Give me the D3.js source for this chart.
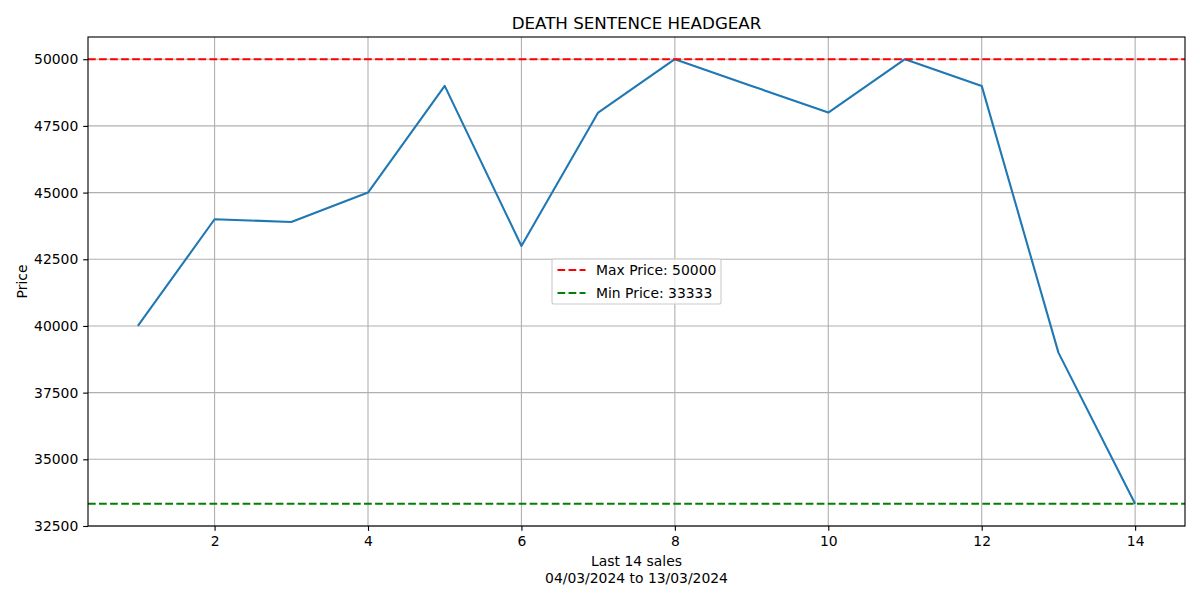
<!DOCTYPE html>
<html>
<head>
<meta charset="utf-8">
<script src="https://cdn.jsdelivr.net/npm/d3@7"></script>
<style>
  body { margin: 0; background: #fff; }
  text { font-family: 'DejaVu Sans', sans-serif; fill: #000; }
</style>
</head>
<body>
<div class="chart"></div>
<script>
const sales = [1, 2, 3, 4, 5, 6, 7, 8, 9, 10, 11, 12, 13, 14];
const prices = [40000, 44000, 43900, 45000, 49000, 43000, 48000, 50000, 49000, 48000, 50000, 49000, 39000, 33333];
const maxPrice = 50000;
const minPrice = 33333;
const xTicks = [2, 4, 6, 8, 10, 12, 14];
const yTicks = [32500, 35000, 37500, 40000, 42500, 45000, 47500, 50000];
const legendLabels = ['Max Price: ' + maxPrice, 'Min Price: ' + minPrice];

const margin = { top: 37, right: 15, bottom: 74, left: 88 };
const width = 1200 - margin.left - margin.right;
const height = 600 - margin.top - margin.bottom;

// points -> pixels (figure at 100 dpi)
const pt = 100 / 72;

const svg = d3
  .select('.chart')
  .append('svg')
  .attr('width', 1200)
  .attr('height', 600);

const group = svg
  .append('g')
  .attr('transform', 'translate(' + margin.left + ',' + margin.top + ')');

// x-value (sale number), matplotlib-like 5% margins
const xPad = (d3.max(sales) - d3.min(sales)) * 0.05;
const xScale = d3
  .scaleLinear()
  .domain([d3.min(sales) - xPad, d3.max(sales) + xPad])
  .range([0, width]);

// y-value (price)
const yPad = (d3.max(prices) - d3.min(prices)) * 0.05;
const yScale = d3
  .scaleLinear()
  .domain([d3.min(prices) - yPad, d3.max(prices) + yPad])
  .range([height, 0]);

// grid
group
  .append('g')
  .selectAll('line')
  .data(xTicks)
  .join('line')
  .attr('x1', (d) => xScale(d))
  .attr('x2', (d) => xScale(d))
  .attr('y1', 0)
  .attr('y2', height)
  .attr('stroke', '#b0b0b0')
  .attr('stroke-width', 0.8 * pt);

group
  .append('g')
  .selectAll('line')
  .data(yTicks)
  .join('line')
  .attr('x1', 0)
  .attr('x2', width)
  .attr('y1', (d) => yScale(d))
  .attr('y2', (d) => yScale(d))
  .attr('stroke', '#b0b0b0')
  .attr('stroke-width', 0.8 * pt);

// price line
const line = d3
  .line()
  .x((d, i) => xScale(sales[i]))
  .y((d) => yScale(d));

group
  .append('path')
  .datum(prices)
  .attr('fill', 'none')
  .attr('stroke', '#1f77b4')
  .attr('stroke-width', 1.5 * pt)
  .attr('stroke-linejoin', 'round')
  .attr('stroke-linecap', 'butt')
  .attr('d', line);

// max / min lines
const dash = `${5.55 * pt},${2.4 * pt}`;
const refLines = [
  { value: maxPrice, color: '#ff0000' },
  { value: minPrice, color: '#008000' },
];
group
  .append('g')
  .selectAll('line')
  .data(refLines)
  .join('line')
  .attr('x1', 0)
  .attr('x2', width)
  .attr('y1', (d) => yScale(d.value))
  .attr('y2', (d) => yScale(d.value))
  .attr('stroke', (d) => d.color)
  .attr('stroke-width', 1.5 * pt)
  .attr('stroke-dasharray', dash);

// axes
const xAxis = d3.axisBottom(xScale).tickValues(xTicks).tickSize(3.5 * pt).tickPadding(3.5 * pt);
const xAxisG = group
  .append('g')
  .attr('transform', `translate(0, ${height})`)
  .call(xAxis);

const yAxis = d3.axisLeft(yScale).tickValues(yTicks).tickFormat(d3.format('d')).tickSize(3.5 * pt).tickPadding(3.5 * pt);
const yAxisG = group.append('g').call(yAxis);

[xAxisG, yAxisG].forEach((g) => {
  g.select('.domain').remove();
  g.selectAll('.tick line').attr('stroke', '#000').attr('stroke-width', 0.8 * pt);
  g.selectAll('.tick text').attr('font-size', '13.9px').attr('font-family', 'DejaVu Sans').attr('fill', '#000');
});

// frame
group
  .append('rect')
  .attr('width', width)
  .attr('height', height)
  .attr('fill', 'none')
  .attr('stroke', '#000')
  .attr('stroke-width', 0.8 * pt);

// title
svg
  .append('text')
  .attr('x', margin.left + width / 2)
  .attr('y', 29)
  .attr('text-anchor', 'middle')
  .attr('font-size', '16.7px')
  .text('DEATH SENTENCE HEADGEAR');

// x-axis title
const xLabel = svg
  .append('text')
  .attr('x', margin.left + width / 2)
  .attr('y', 566)
  .attr('text-anchor', 'middle')
  .attr('font-size', '13.9px');
xLabel.append('tspan').attr('x', margin.left + width / 2).text('Last 14 sales');
xLabel.append('tspan').attr('x', margin.left + width / 2).attr('dy', 16.5).text('04/03/2024 to 13/03/2024');

// y-axis title
svg
  .append('text')
  .attr('transform', `translate(27, ${margin.top + height / 2}) rotate(-90)`)
  .attr('text-anchor', 'middle')
  .attr('font-size', '13.9px')
  .text('Price');

// legend
const legend = svg.append('g').attr('transform', 'translate(552, 259)');
legend
  .append('rect')
  .attr('width', 169)
  .attr('height', 45)
  .attr('rx', 2)
  .attr('fill', '#fff')
  .attr('fill-opacity', 0.8)
  .attr('stroke', '#cccccc')
  .attr('stroke-width', 0.8 * pt);

legend
  .selectAll('line')
  .data(refLines)
  .join('line')
  .attr('x1', 5.5)
  .attr('x2', 33.5)
  .attr('y1', (d, i) => 11 + i * 23)
  .attr('y2', (d, i) => 11 + i * 23)
  .attr('stroke', (d) => d.color)
  .attr('stroke-width', 1.5 * pt)
  .attr('stroke-dasharray', dash);

legend
  .selectAll('text')
  .data(legendLabels)
  .join('text')
  .attr('x', 44)
  .attr('y', (d, i) => 16 + i * 23)
  .attr('font-size', '13.9px')
  .text((d) => d);
</script>
</body>
</html>
